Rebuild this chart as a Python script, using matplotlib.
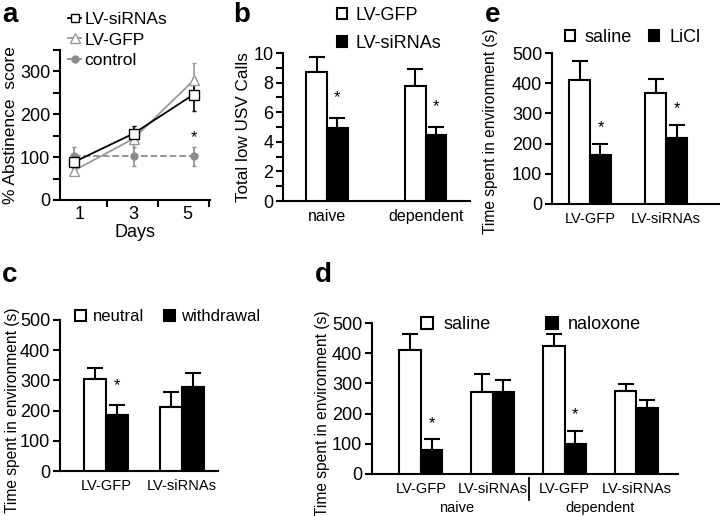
import numpy as np
import matplotlib
matplotlib.use("Agg")
import matplotlib.pyplot as plt
from matplotlib.patches import Patch
from matplotlib.lines import Line2D

plt.rcParams['font.family'] = ['Liberation Sans', 'DejaVu Sans']
plt.rcParams['axes.linewidth'] = 1.5

# ---- data ----
days = [1, 3, 5]
a_sirna = [88, 155, 246]
a_sirna_err = [14, 18, 39]
a_gfp = [68, 143, 279]
a_gfp_err = [8, 20, 40]
a_ctrl = [102, 102, 102]
a_ctrl_err = [22, 22, 22]

b_groups = ['naive', 'dependent']
b_gfp = [8.7, 7.8]
b_gfp_err = [1.05, 1.1]
b_sirna = [4.95, 4.45]
b_sirna_err = [0.65, 0.55]

c_groups = ['LV-GFP', 'LV-siRNAs']
c_neutral = [303, 212]
c_neutral_err = [37, 51]
c_withdrawal = [185, 278]
c_withdrawal_err = [33, 47]

d_groups = ['LV-GFP', 'LV-siRNAs', 'LV-GFP', 'LV-siRNAs']
d_saline = [410, 272, 425, 275]
d_saline_err = [53, 58, 40, 23]
d_naloxone = [78, 272, 100, 220]
d_naloxone_err = [37, 40, 43, 25]

e_groups = ['LV-GFP', 'LV-siRNAs']
e_saline = [410, 367]
e_saline_err = [65, 46]
e_licl = [163, 218]
e_licl_err = [35, 44]

W, H = 720, 516
fig = plt.figure(figsize=(W / 100, H / 100), dpi=100)


def px_axes(left, right, top, bottom):
    return fig.add_axes([left / W, 1 - bottom / H, (right - left) / W, (bottom - top) / H])


def style(ax):
    for s in ['top', 'right']:
        ax.spines[s].set_visible(False)
    ax.tick_params(axis='y', direction='out', length=5, width=1.5, labelsize=13, pad=2)
    ax.tick_params(axis='x', length=0, labelsize=10.5, pad=6)


def bars(ax, x, v1, e1, v2, e2, w):
    x = np.asarray(x, dtype=float)
    ax.bar(x - w / 2, v1, w, color='white', edgecolor='black', lw=1.5, zorder=3)
    ax.bar(x + w / 2, v2, w, color='black', edgecolor='black', lw=1.5, zorder=3)
    ax.errorbar(x - w / 2, v1, yerr=[np.zeros(len(v1)), e1], fmt='none', ecolor='black',
                elinewidth=1.5, capsize=6, capthick=1.5, zorder=2)
    ax.errorbar(x + w / 2, v2, yerr=[np.zeros(len(v2)), e2], fmt='none', ecolor='black',
                elinewidth=1.5, capsize=6, capthick=1.5, zorder=2)


def star(ax, x, y):
    ax.text(x, y, '*', ha='center', va='center', fontsize=12)


def sq_legend(ax, labels, anchor, ncol, fs=13, hl=0.55, colsp=1.0, rowsp=0.4, pad=0.5):
    h = [Patch(facecolor='white', edgecolor='black', lw=1.5),
         Patch(facecolor='black', edgecolor='black', lw=1.5)]
    ax.legend(h, labels, loc='upper left', bbox_to_anchor=anchor, bbox_transform=fig.transFigure,
              ncol=ncol, frameon=False, fontsize=fs, handlelength=hl, handleheight=hl,
              handletextpad=pad, columnspacing=colsp, labelspacing=rowsp, borderpad=0, borderaxespad=0)


# ---- a ----
ax = px_axes(60, 210, 50, 200)
style(ax)
ax.errorbar(days, a_ctrl, yerr=a_ctrl_err, color='#8c8c8c', ls='--', lw=1.3, marker='o', ms=5,
            capsize=1.5, elinewidth=1.2, label='control')
ax.errorbar(days, a_gfp, yerr=a_gfp_err, color='#9a9a9a', lw=1.3, marker='^', ms=7,
            mfc='white', mec='#9a9a9a', capsize=1.5, elinewidth=1.2, label='LV-GFP')
ax.errorbar(days, a_sirna, yerr=a_sirna_err, color='black', lw=1.3, marker='s', ms=6.5,
            mfc='white', mec='black', capsize=1.5, elinewidth=1.2, label='LV-siRNAs')
star(ax, days[2], 146)
ax.set_xlim(0.55, 5.55)
ax.set_ylim(0, 350)
ax.set_yticks(np.arange(0, 351, 50))
ax.set_yticklabels(['0', '', '100', '', '200', '', '300', ''])
ax.set_xticks([2.1, 3.8, 5.52])
ax.set_xticklabels(['', '', ''])
ax.set_xticks([1.2, 3.0, 4.8], minor=True)
ax.set_xticklabels(['1', '3', '5'], minor=True)
ax.tick_params(axis='x', which='major', length=5, width=1.5, direction='out')
ax.tick_params(axis='x', which='minor', length=0, labelsize=13, pad=4)
ax.set_xlabel('Days', fontsize=13, labelpad=1)
ax.set_ylabel('% Abstinence  score', fontsize=12.5)
ax.yaxis.set_label_coords(-0.28, 0.5)
hl = [Line2D([], [], color='black', lw=1.3, marker='s', ms=6, mfc='white'),
      Line2D([], [], color='#9a9a9a', lw=1.3, marker='^', ms=7, mfc='white'),
      Line2D([], [], color='#8c8c8c', lw=1.3, marker='o', ms=5)]
ax.legend(hl, ['LV-siRNAs', 'LV-GFP', 'control'], loc='upper left', bbox_to_anchor=(68 / W, 1 - 12 / H),
          bbox_transform=fig.transFigure, frameon=False, fontsize=12.5, handlelength=0.75,
          handletextpad=0.2, labelspacing=0.3, borderpad=0, borderaxespad=0)
fig.text(2 / W, 1 - 2 / H, 'a', fontsize=20, fontweight='bold', va='top')

# ---- b ----
ax = px_axes(283, 470, 53, 201)
style(ax)
xb = np.arange(len(b_groups))
bars(ax, xb, b_gfp, b_gfp_err, b_sirna, b_sirna_err, 0.21)
ax.set_xlim(-0.447, 1.45)
ax.set_ylim(0, 10)
ax.set_yticks(np.arange(0, 11, 1))
ax.set_yticklabels(['0', '', '2', '', '4', '', '6', '', '8', '', '10'])
ax.set_xticks(xb)
ax.set_xticklabels(b_groups, fontsize=11.5)
for i in range(len(xb)):
    star(ax, xb[i] + 0.105, b_sirna[i] + b_sirna_err[i] + 1.4)
ax.set_ylabel('Total low USV Calls', fontsize=12.3)
ax.yaxis.set_label_coords(-0.17, 0.5)
sq_legend(ax, ['LV-GFP', 'LV-siRNAs'], (337 / W, 1 - 7 / H), 1, rowsp=0.6)
fig.text(233 / W, 1 - 2 / H, 'b', fontsize=20, fontweight='bold', va='top')

# ---- e ----
ax = px_axes(552, 720, 53, 204)
style(ax)
xe = np.arange(len(e_groups))
bars(ax, xe, e_saline, e_saline_err, e_licl, e_licl_err, 0.276)
ax.set_xlim(-0.5, 1.71)
ax.set_ylim(0, 500)
ax.set_yticks(np.arange(0, 501, 100))
ax.set_xticks(xe)
ax.set_xticklabels(e_groups)
for i in range(len(xe)):
    star(ax, xe[i] + 0.138, e_licl[i] + e_licl_err[i] + 55)
ax.set_ylabel('Time spent in environment (s)', fontsize=11.2)
ax.yaxis.set_label_coords(-0.32, 0.48)
sq_legend(ax, ['saline', 'LiCl'], (565 / W, 1 - 29 / H), 2, colsp=0.95, pad=0.55)
fig.text(485 / W, 1 - 2 / H, 'e', fontsize=20, fontweight='bold', va='top')

# ---- c ----
ax = px_axes(60, 218, 320, 471)
style(ax)
xc = np.arange(len(c_groups))
bars(ax, xc, c_neutral, c_neutral_err, c_withdrawal, c_withdrawal_err, 0.29)
ax.set_xlim(-0.605, 1.47)
ax.set_ylim(0, 500)
ax.set_yticks(np.arange(0, 501, 100))
ax.set_xticks(xc)
ax.set_xticklabels(c_groups)
star(ax, xc[0] + 0.145, c_withdrawal[0] + c_withdrawal_err[0] + 65)
ax.set_ylabel('Time spent in environment (s)', fontsize=11.2)
ax.yaxis.set_label_coords(-0.255, 0.4)
sq_legend(ax, ['neutral', 'withdrawal'], (75 / W, 1 - 309 / H), 2, fs=12, hl=0.65,
          colsp=1.2, pad=0.4)
fig.text(2 / W, 1 - 262 / H, 'c', fontsize=20, fontweight='bold', va='top')

# ---- d ----
ax = px_axes(372, 678, 323, 474)
style(ax)
xd = np.arange(len(d_groups))
bars(ax, xd, d_saline, d_saline_err, d_naloxone, d_naloxone_err, 0.3)
ax.set_xlim(-0.68, 3.58)
ax.set_ylim(0, 500)
ax.set_yticks(np.arange(0, 501, 100))
ax.set_xticks(xd)
ax.set_xticklabels(d_groups)
for i in [0, 2]:
    star(ax, xd[i] + 0.15, d_naloxone[i] + d_naloxone_err[i] + 52)
ax.plot([1.5, 1.5], [-0.027, -0.17], color='black', lw=1.3, transform=ax.get_xaxis_transform(), clip_on=False)
ax.text(0.5, -0.18, 'naive', transform=ax.get_xaxis_transform(), ha='center', va='top', fontsize=10.5)
ax.text(2.5, -0.18, 'dependent', transform=ax.get_xaxis_transform(), ha='center', va='top', fontsize=10.5)
ax.set_ylabel('Time spent in environment (s)', fontsize=11.2)
ax.yaxis.set_label_coords(-0.137, 0.4)
sq_legend(ax, ['saline', 'naloxone'], (421 / W, 1 - 316 / H), 2, hl=0.67, colsp=3.1, pad=0.55)
fig.text(315 / W, 1 - 262 / H, 'd', fontsize=20, fontweight='bold', va='top')

fig.savefig('out.png', dpi=100)
